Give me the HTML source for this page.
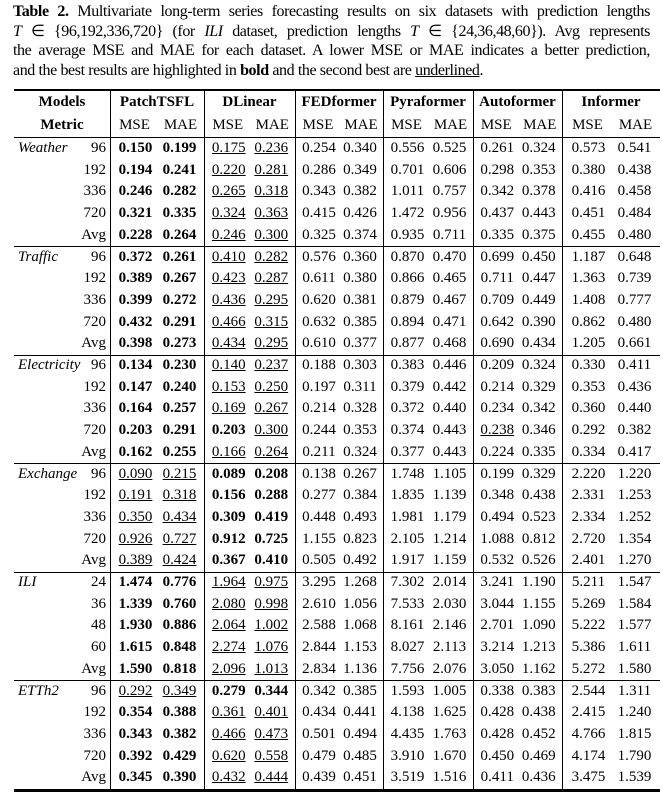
<!DOCTYPE html>
<html><head><meta charset="utf-8">
<style>
body{margin:0;width:663px;height:798px;overflow:hidden;background:#fff;font-family:"Liberation Serif",serif;color:#000;position:relative}
#cap{position:absolute;left:13px;top:2px;width:637px;font-size:16px;line-height:19.5px;letter-spacing:-0.4px}
#cap div{white-space:nowrap;text-align:justify;text-align-last:justify}
#cap div.last{text-align-last:left}
.t{position:absolute;font-size:15px;line-height:21.7px;white-space:nowrap}
.hl{position:absolute;background:#000}
.vl{position:absolute;width:1px;background:#000}
b{font-weight:bold}
u{text-decoration:underline}
</style></head><body>
<div id="cap">
<div><b>Table 2.</b> Multivariate long-term series forecasting results on six datasets with prediction lengths</div>
<div><i>T</i> ∈ {96,192,336,720} (for <i>ILI</i> dataset, prediction lengths <i>T</i> ∈ {24,36,48,60}). Avg represents</div>
<div>the average MSE and MAE for each dataset. A lower MSE or MAE indicates a better prediction,</div>
<div class="last">and the best results are highlighted in <b>bold</b> and the second best are <u>underlined</u>.</div>
</div>
<div id="tbl"></div>
<script>
const models=["PatchTSFL","DLinear","FEDformer","Pyraformer","Autoformer","Informer"];
const datasets=["Weather","Traffic","Electricity","Exchange","ILI","ETTh2"];
const horizons=[["96","192","336","720","Avg"],["96","192","336","720","Avg"],["96","192","336","720","Avg"],["96","192","336","720","Avg"],["24","36","48","60","Avg"],["96","192","336","720","Avg"]];
// * = bold, _ = underline
const rows=[
"*0.150 *0.199 _0.175 _0.236 0.254 0.340 0.556 0.525 0.261 0.324 0.573 0.541",
"*0.194 *0.241 _0.220 _0.281 0.286 0.349 0.701 0.606 0.298 0.353 0.380 0.438",
"*0.246 *0.282 _0.265 _0.318 0.343 0.382 1.011 0.757 0.342 0.378 0.416 0.458",
"*0.321 *0.335 _0.324 _0.363 0.415 0.426 1.472 0.956 0.437 0.443 0.451 0.484",
"*0.228 *0.264 _0.246 _0.300 0.325 0.374 0.935 0.711 0.335 0.375 0.455 0.480",
"*0.372 *0.261 _0.410 _0.282 0.576 0.360 0.870 0.470 0.699 0.450 1.187 0.648",
"*0.389 *0.267 _0.423 _0.287 0.611 0.380 0.866 0.465 0.711 0.447 1.363 0.739",
"*0.399 *0.272 _0.436 _0.295 0.620 0.381 0.879 0.467 0.709 0.449 1.408 0.777",
"*0.432 *0.291 _0.466 _0.315 0.632 0.385 0.894 0.471 0.642 0.390 0.862 0.480",
"*0.398 *0.273 _0.434 _0.295 0.610 0.377 0.877 0.468 0.690 0.434 1.205 0.661",
"*0.134 *0.230 _0.140 _0.237 0.188 0.303 0.383 0.446 0.209 0.324 0.330 0.411",
"*0.147 *0.240 _0.153 _0.250 0.197 0.311 0.379 0.442 0.214 0.329 0.353 0.436",
"*0.164 *0.257 _0.169 _0.267 0.214 0.328 0.372 0.440 0.234 0.342 0.360 0.440",
"*0.203 *0.291 *0.203 _0.300 0.244 0.353 0.374 0.443 _0.238 0.346 0.292 0.382",
"*0.162 *0.255 _0.166 _0.264 0.211 0.324 0.377 0.443 0.224 0.335 0.334 0.417",
"_0.090 _0.215 *0.089 *0.208 0.138 0.267 1.748 1.105 0.199 0.329 2.220 1.220",
"_0.191 _0.318 *0.156 *0.288 0.277 0.384 1.835 1.139 0.348 0.438 2.331 1.253",
"_0.350 _0.434 *0.309 *0.419 0.448 0.493 1.981 1.179 0.494 0.523 2.334 1.252",
"_0.926 _0.727 *0.912 *0.725 1.155 0.823 2.105 1.214 1.088 0.812 2.720 1.354",
"_0.389 _0.424 *0.367 *0.410 0.505 0.492 1.917 1.159 0.532 0.526 2.401 1.270",
"*1.474 *0.776 _1.964 _0.975 3.295 1.268 7.302 2.014 3.241 1.190 5.211 1.547",
"*1.339 *0.760 _2.080 _0.998 2.610 1.056 7.533 2.030 3.044 1.155 5.269 1.584",
"*1.930 *0.886 _2.064 _1.002 2.588 1.068 8.161 2.146 2.701 1.090 5.222 1.577",
"*1.615 *0.848 _2.274 _1.076 2.844 1.153 8.027 2.113 3.214 1.213 5.386 1.611",
"*1.590 *0.818 _2.096 _1.013 2.834 1.136 7.756 2.076 3.050 1.162 5.272 1.580",
"_0.292 _0.349 *0.279 *0.344 0.342 0.385 1.593 1.005 0.338 0.383 2.544 1.311",
"*0.354 *0.388 _0.361 _0.401 0.434 0.441 4.138 1.625 0.428 0.438 2.415 1.240",
"*0.343 *0.382 _0.466 _0.473 0.501 0.494 4.435 1.763 0.428 0.452 4.766 1.815",
"*0.392 *0.429 _0.620 _0.558 0.479 0.485 3.910 1.670 0.450 0.469 4.174 1.790",
"*0.345 *0.390 _0.432 _0.444 0.439 0.451 3.519 1.516 0.411 0.436 3.475 1.539"];
const T=document.getElementById('tbl');
const colX=[110,204,295,383,473,562,660];
const rowTop=138, rowH=21.7;
function add(cls,style,html,name){
  const d=document.createElement('div');d.className=cls;d.style.cssText=style;if(html!==undefined)d.innerHTML=html;
  
  
  T.appendChild(d);return d;
}
add('hl','left:14px;top:89px;width:646px;height:2px',undefined,'top-rule');
add('hl','left:14px;top:137px;width:646px;height:1px',undefined,'header-rule');
add('hl','left:14px;top:789px;width:646px;height:2.5px',undefined,'bottom-rule');
for(let g=1;g<6;g++) add('hl','left:14px;top:'+(rowTop+g*5*rowH-0.5)+'px;width:646px;height:1px',undefined,'group-rule');
for(let i=0;i<6;i++) add('vl','left:'+colX[i]+'px;top:91px;height:698px',undefined,'column-rule');
add('t','left:14px;top:92px;width:96px;text-align:center;font-weight:bold','Models','models-header');
add('t','left:14px;top:115px;width:96px;text-align:center;font-weight:bold','Metric','metric-header');
models.forEach((m,i)=>{
  add('t','left:'+colX[i]+'px;top:92px;width:'+(colX[i+1]-colX[i])+'px;text-align:center;font-weight:bold',m,'model-header');
  const w=(colX[i+1]-colX[i])/2;
  add('t','left:'+(colX[i]+1)+'px;top:115px;width:'+w+'px;text-align:center','MSE','mse-header');
  add('t','left:'+(colX[i]+w)+'px;top:115px;width:'+w+'px;text-align:center','MAE','mae-header');
});
rows.forEach((r,ri)=>{
  const y=rowTop+ri*rowH;
  const g=Math.floor(ri/5),k=ri%5;
  if(k===0) add('t','left:18px;top:'+y+'px;font-style:italic',datasets[g],'dataset-label');
  add('t','left:60px;top:'+y+'px;width:46px;text-align:right',horizons[g][k],'horizon-label');
  r.split(' ').forEach((v,ci)=>{
    const m=Math.floor(ci/2),w=(colX[m+1]-colX[m])/2;
    const x=colX[m]+(ci%2)*w+(ci%2?-1:2);
    let h=v;
    if(v[0]==='*') h='<b>'+v.slice(1)+'</b>';
    else if(v[0]==='_') h='<u>'+v.slice(1)+'</u>';
    add('t','left:'+x+'px;top:'+y+'px;width:'+w+'px;text-align:center',h,'value-cell');
  });
});
</script>
</body></html>
